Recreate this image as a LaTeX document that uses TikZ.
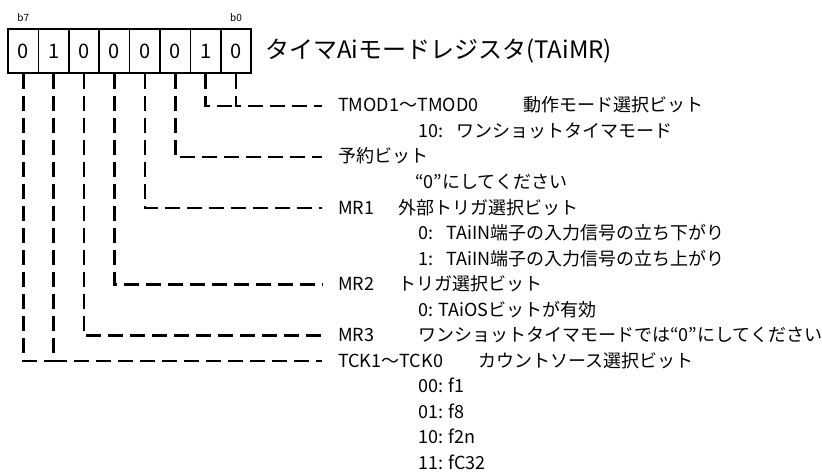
\documentclass[tikz,border=0pt]{standalone}
\usepackage{fontspec}
\setmainfont{Noto Sans CJK JP}
\usepackage{tikz}

\begin{document}
\begin{tikzpicture}[x=1pt,y=-1pt,node distance=30.4pt,
  bit node/.style={draw,line width=1.6pt,minimum width=30.4pt,minimum height=44pt,inner sep=0pt,font=\fontsize{20}{20}\selectfont},
  tag node/.style={inner sep=0pt,font=\fontsize{10}{10}\selectfont},
  title node/.style={anchor=west,inner sep=0pt,font=\fontsize{24}{24}\selectfont},
  name node/.style={anchor=west,inner sep=0pt,text height=15pt,text depth=3pt,font=\fontsize{18}{18}\selectfont},
  dash line/.style={line width=2.6pt,dash pattern=on 15pt off 7pt}]
  \useasboundingbox (0,0) rectangle (822,476);

  % register bits
  \node[bit node] (b7) at (23.2,51) {0};
  \node[bit node] (b6) [right of=b7] {1};
  \node[bit node] (b5) [right of=b6] {0};
  \node[bit node] (b4) [right of=b5] {0};
  \node[bit node] (b3) [right of=b4] {0};
  \node[bit node] (b2) [right of=b3] {0};
  \node[bit node] (b1) [right of=b2] {1};
  \node[bit node] (b0) [right of=b1] {0};
  \node[tag node] (b7tag) [above of=b7,node distance=33pt] {b7};
  \node[tag node] (b0tag) [above of=b0,node distance=33pt] {b0};
  \node[title node] (title) at (265,51) {タイマAiモードレジスタ(TAiMR)};

  % bit descriptions
  \node[name node] (tmod) at (338,106) {TMOD1～TMOD0};
  \node[name node] (tmodtxt) at (523,106) {動作モード選択ビット};
  \node[name node] (tmodval) at (418,131.5) {10:\hspace{0.75em}ワンショットタイマモード};
  \node[name node] (rsv) at (338,157) {予約ビット};
  \node[name node] (rsvtxt) at (415,182.5) {“0”にしてください};
  \node[name node] (mr1) at (338,208) {MR1};
  \node[name node] (mr1txt) at (398,208) {外部トリガ選択ビット};
  \node[name node] (mr1val0) at (418,233.5) {0:\hspace{0.75em}TAiIN端子の入力信号の立ち下がり};
  \node[name node] (mr1val1) at (418,259) {1:\hspace{0.75em}TAiIN端子の入力信号の立ち上がり};
  \node[name node] (mr2) at (338,284.5) {MR2};
  \node[name node] (mr2txt) at (398,284.5) {トリガ選択ビット};
  \node[name node] (mr2val0) at (418,310) {0: TAiOSビットが有効};
  \node[name node] (mr3) at (338,335.5) {MR3};
  \node[name node] (mr3txt) at (418,335.5) {ワンショットタイマモードでは“0”にしてください};
  \node[name node] (tck) at (338,361) {TCK1～TCK0};
  \node[name node] (tcktxt) at (478,361) {カウントソース選択ビット};
  \node[name node] (tckval00) at (418,386.5) {00: f1};
  \node[name node] (tckval01) at (418,412) {01: f8};
  \node[name node] (tckval10) at (418,437.5) {10: f2n};
  \node[name node] (tckval11) at (418,463) {11: fC32};

  % connectors
  \draw[dash line] (b1.south) |- (b0.south |- tmod.west);
  \draw[dash line,shorten >=16pt] (b0.south) |- (tmod.west);
  \draw[dash line,shorten >=16pt] (b2.south) |- (rsv.west);
  \draw[dash line,shorten >=16pt] (b3.south) |- (mr1.west);
  \draw[dash line,shorten >=16pt] (b4.south) |- (mr2.west);
  \draw[dash line,shorten >=16pt] (b5.south) |- (mr3.west);
  \draw[dash line] (b7.south) |- (b6.south |- tck.west);
  \draw[dash line,shorten >=16pt] (b6.south) |- (tck.west);
\end{tikzpicture}
\end{document}
